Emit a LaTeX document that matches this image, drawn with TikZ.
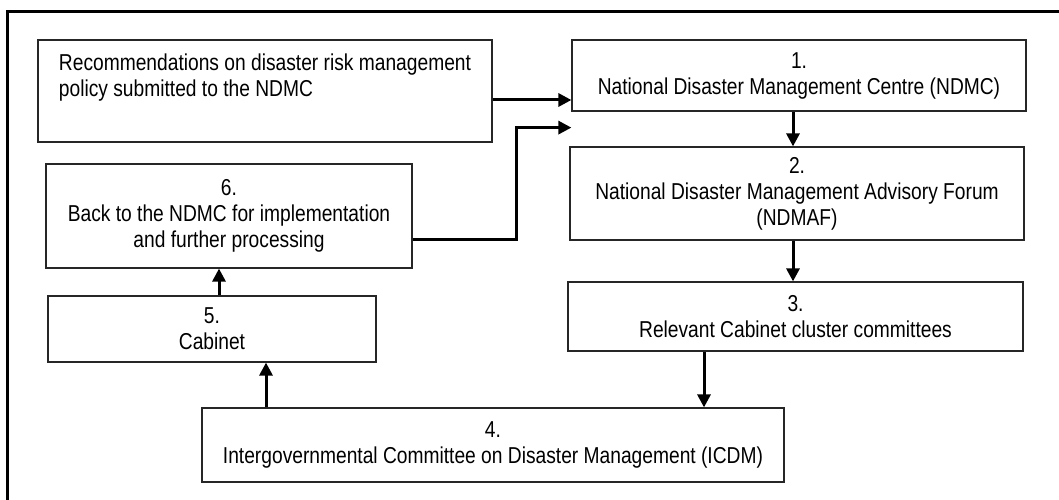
\documentclass[tikz,border=0pt]{standalone}
\usepackage{fontspec}
\setmainfont[FakeStretch=0.835]{Liberation Sans}
\usetikzlibrary{arrows.meta,calc}
\tikzset{
  box/.style={draw=black!85, line width=1.2pt, align=center, inner sep=0pt,
    font=\fontsize{23}{26}\selectfont},
  lift/.style={execute at begin node={\rule{0pt}{#1}}},
  arr/.style={line width=3pt, -{Triangle[length=13pt, width=13pt]}}
}
\begin{document}
\begin{tikzpicture}[x=1pt, y=-1pt]
  % Frame
  \clip (0,0) rectangle (1059,500);
  \draw[line width=3pt] (7,520) -- (7,12) -- (1080,12);
  % Boxes
  \node[box, align=left, minimum width=454pt, minimum height=102pt] (rec) at (265,91)
    {Recommendations on disaster risk management\\policy submitted to the NDMC\\\rule[-5pt]{0pt}{5pt}};
  \node[box, lift=22.5pt, minimum width=454pt, minimum height=71pt] (b1) at (799,75.5)
    {1.\\National Disaster Management Centre (NDMC)};
  \node[box, lift=26.5pt, minimum width=454pt, minimum height=93pt] (b2) at (797,193.5)
    {2.\\National Disaster Management Advisory Forum\\(NDMAF)};
  \node[box, lift=23.5pt, minimum width=455pt, minimum height=69pt] (b3) at (795.5,316.5)
    {3.\\Relevant Cabinet cluster committees};
  \node[box, lift=20pt, minimum width=582pt, minimum height=74pt] (b4) at (493,445)
    {4.\\Intergovernmental Committee on Disaster Management (ICDM)};
  \node[box, lift=28pt, minimum width=328pt, minimum height=66pt] (b5) at (212,329)
    {5.\\Cabinet};
  \node[box, lift=18.5pt, minimum width=366pt, minimum height=104pt] (b6) at (229,216)
    {6.\\Back to the NDMC for implementation\\and further processing};
  % Arrows
  \coordinate (back) at ([yshift=-16pt]b1.south west);
  \draw[arr] ([yshift=-9pt]rec.east) -- ([yshift=-9pt]rec.east -| b1.west);
  \draw[arr] ([xshift=-6pt]b1.south) -- ([xshift=-6pt]b1.south |- b2.north);
  \draw[arr] ([xshift=-4pt]b2.south) -- ([xshift=-4pt]b2.south |- b3.north);
  \draw[arr] ([xshift=-91.5pt]b3.south) -- ([xshift=-91.5pt]b3.south |- b4.north);
  \draw[arr] ([xshift=-227pt]b4.north) -- ([xshift=-227pt]b4.north |- b5.south);
  \draw[arr] ([xshift=7pt]b5.north) -- ([xshift=7pt]b5.north |- b6.south);
  \draw[arr] ([yshift=-23pt]b6.east) -| ($(back)+(-55,0)$) -- (back);
\end{tikzpicture}
\end{document}
